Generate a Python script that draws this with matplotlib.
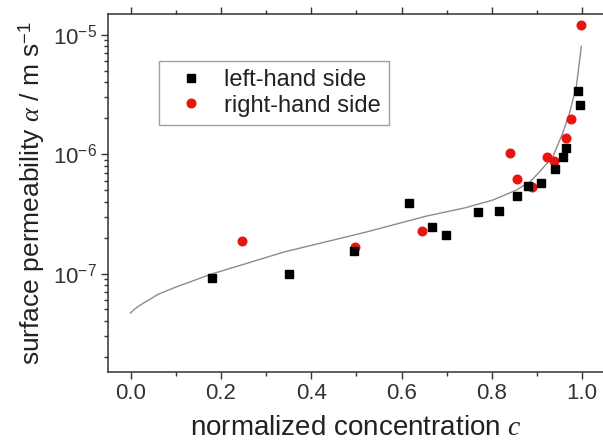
import numpy as np
import matplotlib
matplotlib.use('Agg')
import matplotlib.pyplot as plt
from matplotlib.ticker import MultipleLocator, LogLocator

plt.rcParams['font.family'] = ['Liberation Sans', 'DejaVu Sans']
plt.rcParams['mathtext.fontset'] = 'custom'
plt.rcParams['mathtext.rm'] = 'Liberation Sans'
plt.rcParams['mathtext.it'] = 'Liberation Serif:italic'

# left-hand side (black squares)
c_left = [0.18, 0.35, 0.494, 0.616, 0.667, 0.698, 0.769, 0.815, 0.855, 0.879,
          0.908, 0.939, 0.957, 0.965, 0.990, 0.994]
a_left = [9.1e-8, 1.0e-7, 1.54e-7, 3.9e-7, 2.45e-7, 2.1e-7, 3.27e-7, 3.33e-7,
          4.5e-7, 5.4e-7, 5.7e-7, 7.5e-7, 9.4e-7, 1.13e-6, 3.4e-6, 2.56e-6]

# right-hand side (red circles)
c_right = [0.246, 0.498, 0.645, 0.840, 0.856, 0.888, 0.922, 0.937, 0.965, 0.976, 0.998]
a_right = [1.86e-7, 1.67e-7, 2.28e-7, 1.03e-6, 6.2e-7, 5.3e-7, 9.5e-7, 8.7e-7,
           1.38e-6, 1.98e-6, 1.22e-5]

# model curve
c_fit = [0.0, 0.008, 0.02, 0.04, 0.061, 0.10, 0.179, 0.341, 0.518, 0.655, 0.74, 0.802,
         0.854, 0.885, 0.906, 0.935, 0.957, 0.972, 0.987, 0.998]
a_fit = [4.67e-8, 5.0e-8, 5.4e-8, 6.0e-8, 6.7e-8, 7.7e-8, 9.9e-8, 1.52e-7, 2.21e-7,
         3.03e-7, 3.55e-7, 4.13e-7, 5.0e-7, 5.9e-7, 7.15e-7, 9.55e-7, 1.51e-6, 2.22e-6,
         3.7e-6, 8.0e-6]

fig = plt.figure(figsize=(6.03, 4.47), dpi=100)
ax = fig.add_axes([0.179, 0.168, 0.824, 0.801])

ax.plot(c_fit, a_fit, color='#8c8c8c', lw=1.0, zorder=1)
ax.plot(c_left, a_left, 's', color='black', ms=5.4, ls='none', label='left-hand side', zorder=3)
ax.plot(c_right, a_right, 'o', color='#e8140f', mec='#e8140f', ms=6.2, ls='none',
        label='right-hand side', zorder=2)

ax.set_yscale('log')
ax.set_xlim(-0.05, 1.05)
ax.set_ylim(1.5e-8, 1.5e-5)

ax.xaxis.set_minor_locator(MultipleLocator(0.1))
ax.yaxis.set_minor_locator(LogLocator(base=10, subs=np.arange(2, 10), numticks=20))
ax.set_xticks([0.0, 0.2, 0.4, 0.6, 0.8, 1.0])
ax.set_xticklabels(['0.0', '0.2', '0.4', '0.6', '0.8', '1.0'])
ax.set_yticks([1e-7, 1e-6, 1e-5])
ax.set_yticklabels([r'$10^{-7}$', r'$10^{-6}$', r'$10^{-5}$'])

ax.tick_params(axis='both', which='major', direction='out', length=5, width=1,
               labelsize=16, colors='#333333', labelcolor='#333333', pad=3)
ax.tick_params(axis='both', which='minor', direction='out', length=3, width=1, colors='#333333')
ax.tick_params(axis='x', which='both', top=True)
ax.tick_params(axis='y', which='both', right=False)
for s in ax.spines.values():
    s.set_color('#333333')
    s.set_linewidth(1.1)

ax.set_xlabel(r'normalized concentration $c$', fontsize=20, color='#222222', labelpad=8)
ax.set_ylabel(r'surface permeability $\alpha$ / m s$^{-1}$', fontsize=19, color='#222222',
              labelpad=4)

leg = ax.legend(loc='upper left', bbox_to_anchor=(0.1026, 0.8687), fontsize=17,
                frameon=True, fancybox=False, edgecolor='#888888', handlelength=2.0,
                handletextpad=0.4, borderpad=0.35, labelspacing=0.15, borderaxespad=0)
leg.get_frame().set_linewidth(1.0)
for t in leg.get_texts():
    t.set_color('#222222')

fig.savefig('out.png', dpi=100)
